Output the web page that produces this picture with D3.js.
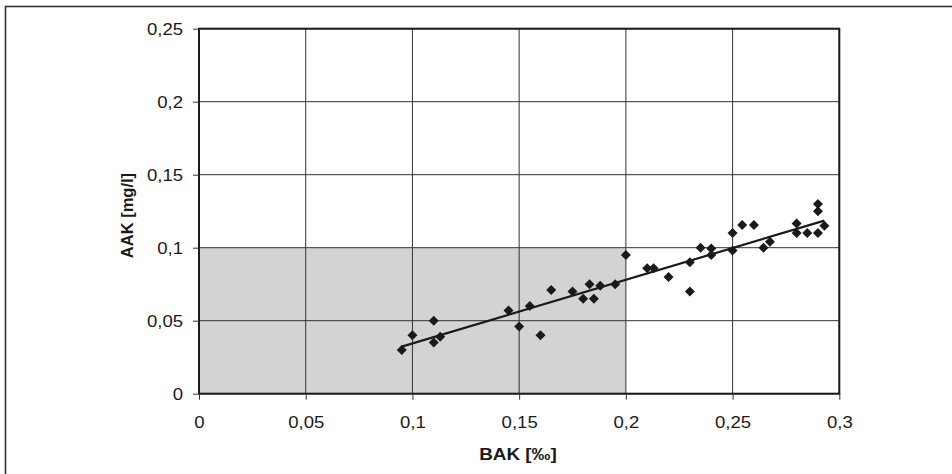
<!DOCTYPE html>
<html>
<head>
<meta charset="utf-8">
<script src="https://cdn.jsdelivr.net/npm/d3@7"></script>
<style>
  html, body { margin: 0; padding: 0; background: #fff; }
  svg { display: block; }
  text { font-family: "Liberation Sans", Arial, sans-serif; fill: #1a1a1a; }
</style>
</head>
<body>
<svg id="chart" width="952" height="474"></svg>
<script>
// Measurements: blood alcohol (BAK, per mille) vs. breath alcohol (AAK, mg/l)
const bak = [0.095, 0.100, 0.110, 0.110, 0.113, 0.145, 0.150, 0.155, 0.160, 0.165,
             0.175, 0.180, 0.183, 0.185, 0.188, 0.195, 0.200, 0.210, 0.213, 0.220,
             0.230, 0.230, 0.235, 0.240, 0.240, 0.250, 0.250, 0.2545, 0.260, 0.2645,
             0.2675, 0.280, 0.280, 0.285, 0.290, 0.290, 0.290, 0.293];
const aak = [0.030, 0.040, 0.050, 0.035, 0.039, 0.057, 0.046, 0.060, 0.040, 0.071,
             0.070, 0.065, 0.075, 0.065, 0.074, 0.075, 0.095, 0.086, 0.086, 0.080,
             0.090, 0.070, 0.100, 0.0995, 0.095, 0.110, 0.098, 0.1155, 0.1155, 0.100,
             0.104, 0.1165, 0.110, 0.110, 0.110, 0.130, 0.125, 0.115];

// Linear trend: aak = slope * bak + intercept, drawn over the measured range
const trendCoef = [0.436, -0.0092];
const trendRange = [0.095, 0.293];

// Shaded region: bak < 0.2, aak < 0.1
const shadeX = [0, 0.2];
const shadeY = [0, 0.1];

const xTicks = [0, 0.05, 0.1, 0.15, 0.2, 0.25, 0.3];
const yTicks = [0, 0.05, 0.1, 0.15, 0.2, 0.25];
const xTitle = "BAK [‰]";
const yTitle = "AAK [mg/l]";

const svg = d3.select("#chart");
const fmt = d => String(d).replace(".", ",");

const x = d3.scaleLinear().domain([0, 0.3]).range([199, 839.3]);
const y = d3.scaleLinear().domain([0, 0.25]).range([393.7, 28.7]);

// outer frame
svg.append("rect")
  .attr("x", 5.5).attr("y", 6.5)
  .attr("width", 980).attr("height", 500)
  .attr("fill", "none").attr("stroke", "#333").attr("stroke-width", 1.6);

// shaded zone
svg.append("rect")
  .attr("x", x(shadeX[0])).attr("y", y(shadeY[1]))
  .attr("width", x(shadeX[1]) - x(shadeX[0]))
  .attr("height", y(shadeY[0]) - y(shadeY[1]))
  .attr("fill", "#d2d3d5");

// grid
const grid = svg.append("g").attr("stroke", "#333").attr("stroke-width", 1);
grid.selectAll("line.v").data(xTicks).join("line")
  .attr("x1", d => x(d)).attr("x2", d => x(d))
  .attr("y1", y(0.25)).attr("y2", y(0));
grid.selectAll("line.h").data(yTicks).join("line")
  .attr("x1", x(0)).attr("x2", x(0.3))
  .attr("y1", d => y(d)).attr("y2", d => y(d));

// plot border
svg.append("rect")
  .attr("x", x(0)).attr("y", y(0.25))
  .attr("width", x(0.3) - x(0)).attr("height", y(0) - y(0.25))
  .attr("fill", "none").attr("stroke", "#1a1a1a").attr("stroke-width", 2);

// axes
const xAxis = svg.append("g")
  .attr("transform", `translate(0,${y(0)})`)
  .call(d3.axisBottom(x).tickValues(xTicks).tickFormat(fmt).tickSize(6).tickPadding(5));
const yAxis = svg.append("g")
  .attr("transform", `translate(${x(0)},0)`)
  .call(d3.axisLeft(y).tickValues(yTicks).tickFormat(fmt).tickSize(6).tickPadding(10));
[xAxis, yAxis].forEach(a => {
  a.select(".domain").remove();
  a.selectAll(".tick line").attr("stroke", "#333").attr("stroke-width", 1);
  a.selectAll(".tick text")
    .attr("fill", "#1a1a1a")
    .style("font-family", "'Liberation Sans', Arial, sans-serif")
    .style("font-size", "16px");
});
// tick labels are set slightly wide
const sx = 1.16;
xAxis.selectAll(".tick text").attr("dy", null).attr("y", 34).attr("transform", `scale(${sx},1)`);
yAxis.selectAll(".tick text").attr("x", -16 / sx).attr("dy", "0.35em").attr("transform", `scale(${sx},1)`);

// trend line
const line = d3.line().x(d => x(d)).y(d => y(trendCoef[0] * d + trendCoef[1]));
svg.append("path")
  .attr("d", line(trendRange))
  .attr("fill", "none").attr("stroke", "#1a1a1a").attr("stroke-width", 2.2);

// data points as diamonds
const diamond = d3.symbol().type(d3.symbolSquare).size(50);
svg.append("g").selectAll("path").data(bak).join("path")
  .attr("d", diamond)
  .attr("transform", (d, i) => `translate(${x(d)},${y(aak[i])}) rotate(45)`)
  .attr("fill", "#1a1a1a");

// axis titles
svg.append("text")
  .attr("x", 518 / 1.18).attr("y", 460)
  .attr("transform", "scale(1.18,1)")
  .attr("text-anchor", "middle")
  .style("font-size", "16px").style("font-weight", "bold")
  .text(xTitle);
svg.append("text")
  .attr("transform", "translate(133,215.5) rotate(-90)")
  .attr("text-anchor", "middle")
  .style("font-size", "16.5px").style("font-weight", "bold")
  .text(yTitle);
</script>
</body>
</html>
